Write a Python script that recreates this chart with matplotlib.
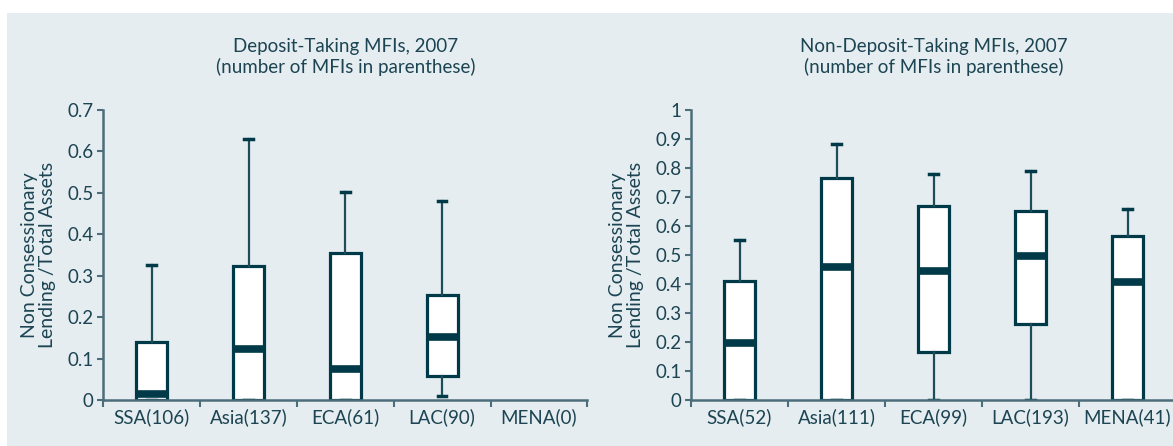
import matplotlib
matplotlib.use("Agg")
import matplotlib.pyplot as plt
from matplotlib.patches import Rectangle

plt.rcParams['font.family'] = ['Lato', 'DejaVu Sans']

# data
left_labels = ['SSA(106)', 'Asia(137)', 'ECA(61)', 'LAC(90)', 'MENA(0)']
left_whislo = [0.0, 0.0, 0.0, 0.009]
left_q1 = [0.0, 0.0, 0.0, 0.058]
left_med = [0.015, 0.124, 0.076, 0.151]
left_q3 = [0.141, 0.324, 0.356, 0.254]
left_whishi = [0.327, 0.630, 0.503, 0.480]

right_labels = ['SSA(52)', 'Asia(111)', 'ECA(99)', 'LAC(193)', 'MENA(41)']
right_whislo = [0.0, 0.0, 0.0, 0.0, 0.0]
right_q1 = [0.0, 0.0, 0.164, 0.263, 0.0]
right_med = [0.196, 0.458, 0.445, 0.497, 0.407]
right_q3 = [0.412, 0.764, 0.670, 0.653, 0.567]
right_whishi = [0.553, 0.882, 0.778, 0.791, 0.658]

left_yticks = [0, 0.1, 0.2, 0.3, 0.4, 0.5, 0.6, 0.7]
left_yticklabels = ['0', '0.1', '0.2', '0.3', '0.4', '0.5', '0.6', '0.7']
right_yticks = [0, 0.1, 0.2, 0.3, 0.4, 0.5, 0.6, 0.7, 0.8, 0.9, 1.0]
right_yticklabels = ['0', '0.1', '0.2', '0.3', '0.4', '0.5', '0.6', '0.7', '0.8', '0.9', '1']

bg = '#e5edf0'
dark = '#003a48'
whisk = '#1f4c5a'
spine = '#4c6e7a'
txt = '#1c4452'

fig = plt.figure(figsize=(11.73, 4.46), dpi=100)
fig.patch.set_facecolor('white')
fig.patches.append(Rectangle((7 / 1173, 0), 1, 433 / 446, transform=fig.transFigure,
                             facecolor=bg, edgecolor='none', zorder=-1))


def panel(rect, labels, lo, q1, med, q3, hi, yticks, yticklabels, ymax, title):
    ax = fig.add_axes(rect)
    ax.set_facecolor('none')
    stats = []
    for i in range(len(med)):
        stats.append({'whislo': lo[i], 'q1': q1[i], 'med': med[i],
                      'q3': q3[i], 'whishi': hi[i], 'fliers': []})
    pos = [i + 0.5 for i in range(len(med))]
    ax.bxp(stats, positions=pos, widths=0.32, capwidths=0.09, patch_artist=True,
           showfliers=False,
           boxprops=dict(facecolor='white', edgecolor=dark, linewidth=2.3),
           medianprops=dict(color=dark, linewidth=5.5, solid_capstyle='butt'),
           whiskerprops=dict(color=whisk, linewidth=1.6),
           capprops=dict(color=dark, linewidth=2.5))
    ax.set_xlim(0, 5)
    ax.set_ylim(0, ymax)
    ax.set_xticks(range(6))
    ax.set_xticklabels([])
    ax.set_xticks([i + 0.5 for i in range(5)], minor=True)
    ax.set_xticklabels(labels, minor=True, fontsize=13.5, color=txt)
    ax.tick_params(axis='x', which='major', length=5, width=1.5, color=spine, direction='out')
    ax.tick_params(axis='x', which='minor', length=0, pad=6)
    ax.set_yticks(yticks)
    ax.set_yticklabels(yticklabels, fontsize=13.5, color=txt)
    ax.tick_params(axis='y', length=4, width=1.5, color=spine, pad=3)
    for s in ['top', 'right']:
        ax.spines[s].set_visible(False)
    for s in ['left', 'bottom']:
        ax.spines[s].set_color(spine)
        ax.spines[s].set_linewidth(1.8)
    ax.set_ylabel('Non Consessionary\nLending /Total Assets', fontsize=14,
                  color=txt, linespacing=1.1, labelpad=8)
    ax.text(0.5, 1.184, title, transform=ax.transAxes, ha='center',
            va='center', fontsize=13.5, color=txt, linespacing=1.2)
    return ax


panel([103.3 / 1173, 46 / 446, 484 / 1173, 290 / 446], left_labels,
      left_whislo, left_q1, left_med, left_q3, left_whishi,
      left_yticks, left_yticklabels, 0.7,
      'Deposit-Taking MFIs, 2007\n(number of MFIs in parenthese)')
panel([691 / 1173, 46 / 446, 485 / 1173, 290 / 446], right_labels,
      right_whislo, right_q1, right_med, right_q3, right_whishi,
      right_yticks, right_yticklabels, 1.0,
      'Non-Deposit-Taking MFIs, 2007\n(number of MFIs in parenthese)')

fig.savefig('out.png', dpi=100, facecolor=fig.get_facecolor())
